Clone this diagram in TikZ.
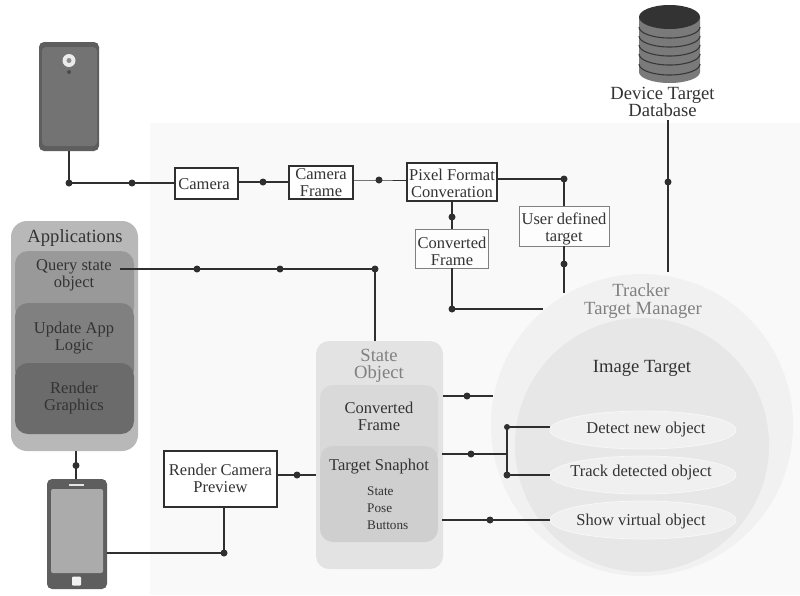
\documentclass[tikz,border=0pt]{standalone}
\usepackage{fontspec}
\setmainfont{Liberation Serif}
\usetikzlibrary{shapes.geometric}
\definecolor{ink}{HTML}{2F2F2F}
\definecolor{txt}{HTML}{333333}
\definecolor{soft}{HTML}{808080}
\newcommand{\fsA}{\fontsize{16.5}{17}\selectfont}
\newcommand{\fsB}{\fontsize{18.6}{17.5}\selectfont}
\newcommand{\fsC}{\fontsize{13.2}{17}\selectfont}
\tikzset{
  x=1pt,y=-1pt,
  wire/.style={draw=ink,line width=1.5pt},
  thinwire/.style={draw=ink,line width=0.8pt},
  dot/.style={circle,fill=ink,draw=none,minimum size=7pt,inner sep=0pt},
  sized/.style 2 args={minimum width=#1,minimum height=#2,inner sep=0pt,outer sep=0pt},
  lbl/.style={align=center,text=txt,font=\fsA,inner sep=0pt},
  big/.style={align=center,text=txt,font=\fsB,inner sep=0pt},
  boxa/.style={draw=ink,line width=1.1pt,fill=white,inner sep=0pt},
  boxb/.style={draw=soft,line width=1pt,fill=white!60!black!2,inner sep=0pt},
  panel/.style={rounded corners=#1,inner sep=0pt,outer sep=0pt},
  oval/.style={ellipse,fill=black!6,draw=black!3,line width=.8pt,inner sep=0pt,outer sep=0pt,minimum width=186pt,minimum height=38pt},
}
\begin{document}
\begin{tikzpicture}
\useasboundingbox (0,0) rectangle (800,595);
\fill[white] (0,0) rectangle (800,595);
\fill[black!2.5] (150,123) rectangle (800,595);

% circles
\node[circle,fill=black!5.5,sized={302pt}{302pt}] (tracker) at (642,425) {};
\node[circle,fill=black!9.5,sized={254pt}{254pt}] (image) at (642,445) {};

% state object
\node[panel=13pt,fill=black!11,sized={127pt}{228pt}] (state) at (379.5,455) {};
\node[panel=13pt,fill=black!15,sized={118pt}{80pt}] (convS) at (379,425) {};
\node[panel=13pt,fill=black!19,sized={118pt}{96pt}] (snap) at (379,494) {};

% applications
\node[panel=16pt,fill=black!28,sized={127pt}{230pt}] (apps) at (74.5,336) {};
\node[panel=13pt,fill=black!40,sized={119pt}{70pt}] (query) at (74.5,286) {};
\node[panel=13pt,fill=black!50,sized={119pt}{80pt}] (update) at (74.5,343) {};
\node[panel=13pt,fill=black!58,sized={119pt}{71pt}] (render) at (74.5,398.5) {};

% rear phone
\node[panel=5pt,fill=black!63,sized={60pt}{109pt}] (phoneA) at (69,96.5) {};
\node[panel=4pt,fill=black!55,sized={55pt}{99pt}] (phoneAin) at (69.5,96.5) {};
\node[circle,fill=black!8,sized={13pt}{13pt}] (lens) at (69,60.5) {};
\node[circle,fill=black!45,sized={5pt}{5pt}] (lensin) at (69,60.5) {};
\node[circle,fill=black!70,sized={4pt}{4pt}] (flash) at (69,72) {};

% front phone
\node[panel=5pt,fill=black!63,sized={60pt}{110pt}] (phoneB) at (77,534) {};
\node[panel=2pt,fill=black!33,sized={52pt}{84pt}] (screen) at (77,531) {};
\node[panel=1pt,fill=black!5,sized={9pt}{9pt}] (home) at (76.5,581) {};
\node[fill=black!10,sized={15pt}{2pt}] (speaker) at (76.5,485) {};

% database
\fill[black!52] (639,17) -- (639,72) arc[start angle=180,end angle=360,x radius=30.5pt,y radius=11pt] -- (700,17) -- cycle;
\foreach \yy in {27,36,45,54,64}{
  \draw[draw=black!78,line width=1.1pt] (639,\yy) arc[start angle=180,end angle=360,x radius=30.5pt,y radius=11pt];
}
\node[ellipse,fill=black!80,sized={61pt}{24pt}] (db) at (669.5,17) {};
\node[big] (dbtext) at (662.5,102) {Device Target\\Database};

% boxes
\node[boxa,sized={63pt}{31pt}] (camera) at (206.5,183.5) {};
\node[boxa,sized={64pt}{33pt}] (frame) at (321,182.5) {};
\node[boxa,sized={90pt}{38pt}] (pixel) at (452,182) {};
\node[boxb,sized={73pt}{39pt}] (conv) at (452,248.5) {};
\node[boxb,sized={90pt}{40pt}] (user) at (564,226) {};
\node[boxa,sized={113pt}{56pt}] (rcp) at (220.5,479) {};
\node[lbl] (tCamera) at (204,184) {Camera};
\node[lbl] (tFrame) at (321,183) {Camera\\Frame};
\node[lbl] (tPixel) at (452,183) {Pixel Format\\Converation};
\node[lbl] (tConvB) at (452,251.5) {Converted\\Frame};
\node[lbl] (tUser) at (564,228.5) {User defined\\target};
\node[lbl] (tRcp) at (220.5,478.5) {Render Camera\\Preview};

% free ends
\coordinate (trackerW) at (543,309);
\coordinate (trackerNW) at (564,293);
\coordinate (trackerN) at (668,272);
\coordinate (dbS) at (668,120);
\coordinate (queryE) at (120,269);
\coordinate (a1) at (493,396);
\coordinate (s1) at (443,396);
\coordinate (s2) at (442,454);
\coordinate (s3) at (442,520);
\coordinate (fork) at (507,454);

% dots
\node[dot] (d1) at (69,183) {};
\node[dot] (d2) at (132,183) {};
\node[dot] (d3) at (263,182) {};
\node[dot] (d4) at (379,180) {};
\node[dot] (d5) at (564,179) {};
\node[dot] (d6) at (452,217) {};
\node[dot] (d7) at (452,309) {};
\node[dot] (d8) at (564,264) {};
\node[dot] (d9) at (668,182) {};
\node[dot] (d10) at (197,269) {};
\node[dot] (d11) at (280,269) {};
\node[dot] (d12) at (375,269) {};
\node[dot] (d13) at (76,465.5) {};
\node[dot] (d14) at (224,553) {};
\node[dot] (d15) at (297,475) {};
\node[dot] (d16) at (467,396) {};
\node[dot] (d17) at (471,454) {};
\node[dot,minimum size=6pt] (d18) at (507,427) {};
\node[dot] (d19) at (507,475) {};
\node[dot] (d20) at (490,520) {};

% connectors
\draw[wire] (phoneA.south) -- (d1.center) -- (d2.center) -- (camera.west |- d2);
\draw[wire] (camera.east |- d3) -- (d3.center) -- (frame.west |- d3);
\draw[thinwire] (frame.east |- d4) -- (d4.center) -- (pixel.west |- d4);
\draw[wire] (pixel.east |- d5) -- (d5.center) -- (user.north);
\draw[wire] (pixel.south) -- (d6.center) -- (conv.north);
\draw[wire] (conv.south) -- (d7.center) -- (trackerW);
\draw[wire] (user.south) -- (d8.center) -- (trackerNW);
\draw[wire] (dbS) -- (d9.center) -- (trackerN);
\draw[wire] (queryE) -- (d10.center) -- (d11.center) -- (d12.center) -- (d12 |- state.north);
\draw[wire] (apps.south -| d13) -- (d13.center) -- (phoneB.north -| d13);
\draw[wire] (phoneB.east |- d14) -- (d14.center) -- (d14 |- rcp.south);
\draw[wire] (rcp.east |- d15) -- (d15.center) -- (state.west |- d15);
\draw[wire] (s1) -- (d16.center) -- (a1);
\draw[wire] (s2) -- (d17.center) -- (fork);
\draw[wire] (d18.center) -- (d19.center);
\node[oval] (detect) at (643,430) {};
\node[oval] (track) at (643,475) {};
\node[oval] (show) at (643,520) {};
\draw[wire] (d18.center) -- (detect.west |- d18);
\draw[wire] (d19.center) -- (track.west |- d19);
\draw[wire] (s3) -- (d20.center) -- (show.west);

% texts
\node[lbl] (tDetect) at (646,430) {Detect new object};
\node[lbl] (tTrack) at (641,473) {Track detected object};
\node[lbl] (tShow) at (641,522) {Show virtual object};
\node[big,text=soft] (tTracker) at (643,301) {\hspace*{-4pt}Tracker\\Target Manager};
\node[big] (tImage) at (642,368) {Image Target};
\node[big,text=soft] (tState) at (379,366) {State\\Object};
\node[lbl] (tConv) at (379,416.5) {Converted\\Frame};
\node[lbl] (tSnap) at (379,467) {Target Snaphot};
\node[align=left,text=txt,font=\fsC,inner sep=0pt,anchor=north west] (tList) at (367,487) {State\\Pose\\Buttons};
\node[big] (tApps) at (75,238) {Applications};
\node[lbl] (tQuery) at (74,275) {Query state\\object};
\node[lbl] (tUpdate) at (74,338) {Update App\\Logic};
\node[lbl] (tRender) at (74,398) {Render\\Graphics};
\end{tikzpicture}
\end{document}
